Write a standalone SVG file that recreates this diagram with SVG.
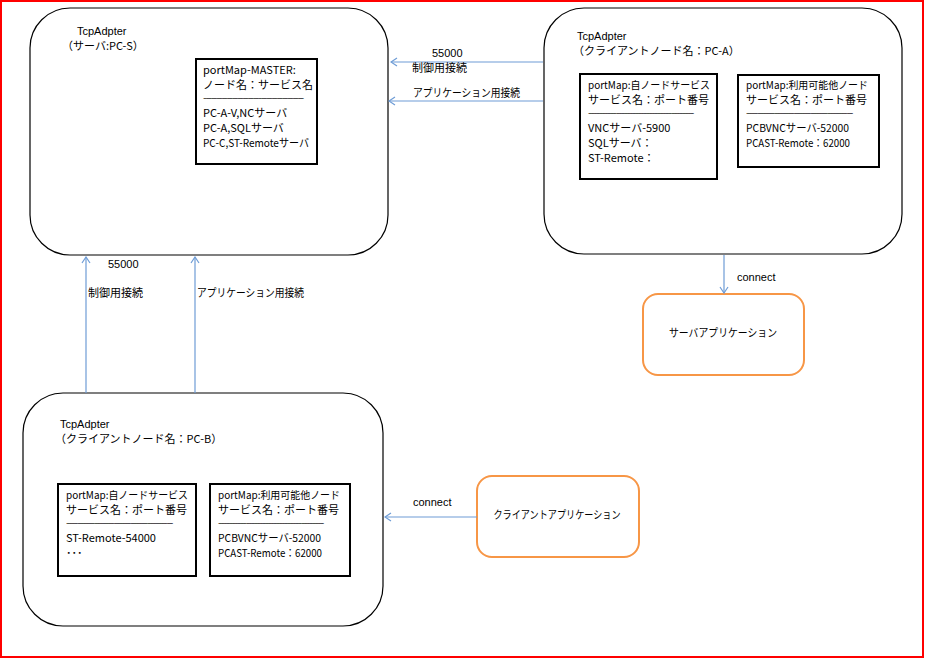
<svg xmlns="http://www.w3.org/2000/svg" width="925" height="659" viewBox="0 0 925 659">
<defs>
<style>
text{font-family:"Noto Sans CJK JP","Liberation Sans",sans-serif;font-size:11px;fill:#000}
.lat{font-family:"Liberation Sans","Noto Sans CJK JP",sans-serif}
.hd{font-size:10.5px}
.big{fill:#fff;stroke:#000;stroke-width:1.2}
.box{fill:#fff;stroke:#000;stroke-width:2}
.app{fill:#fff;stroke:#F79646;stroke-width:2}
.conn{stroke:#6E9CD6;stroke-width:1.2;fill:none}
.dash{font-size:9px;letter-spacing:-1px}
.mid{text-anchor:middle}
</style>
<marker id="arr" viewBox="0 0 8 10" refX="7" refY="5" markerWidth="8" markerHeight="10" orient="auto" markerUnits="userSpaceOnUse">
<path d="M1,1 L7,5 L1,9" fill="none" stroke="#6E9CD6" stroke-width="1.2"/>
</marker>
</defs>
<rect x="0" y="0" width="925" height="659" fill="#fff"/>
<rect x="1" y="1" width="922" height="656" fill="none" stroke="#FF0000" stroke-width="2"/>

<g id="node-pcs">
<rect class="big" x="30" y="8" width="358" height="247" rx="40" ry="40"/>
<text class="lat" x="77" y="35">TcpAdpter</text>
<text x="62" y="50">（サーバ:PC-S）</text>
<rect class="box" x="196" y="59" width="121" height="105"/>
<text x="203" y="74">portMap-MASTER:</text>
<text x="203" y="89">ノード名：サービス名</text>
<text class="dash" x="203" y="101" textLength="100" lengthAdjust="spacingAndGlyphs">--------------------------------------</text>
<text x="203" y="117">PC-A-V,NCサーバ</text>
<text x="203" y="132">PC-A,SQLサーバ</text>
<text x="203" y="147" textLength="106" lengthAdjust="spacingAndGlyphs">PC-C,ST-Remoteサーバ</text>
</g>

<g id="node-pca">
<rect class="big" x="544" y="8" width="358" height="246" rx="40" ry="40"/>
<text class="lat" x="577" y="40">TcpAdpter</text>
<text x="573" y="55">（クライアントノード名：PC-A）</text>
<rect class="box" x="580" y="74" width="137" height="105"/>
<text class="hd" x="588" y="89" textLength="122" lengthAdjust="spacingAndGlyphs">portMap:自ノードサービス</text>
<text x="588" y="104">サービス名：ポート番号</text>
<text class="dash" x="588" y="116" textLength="105" lengthAdjust="spacingAndGlyphs">--------------------------------------</text>
<text x="588" y="132">VNCサーバ-5900</text>
<text x="588" y="147">SQLサーバ：</text>
<text x="588" y="162">ST-Remote：</text>
<rect class="box" x="738" y="75" width="141" height="92"/>
<text class="hd" x="746" y="89" textLength="122" lengthAdjust="spacingAndGlyphs">portMap:利用可能他ノード</text>
<text x="746" y="104">サービス名：ポート番号</text>
<text class="dash" x="746" y="116" textLength="106" lengthAdjust="spacingAndGlyphs">--------------------------------------</text>
<text x="746" y="132" textLength="103" lengthAdjust="spacingAndGlyphs">PCBVNCサーバ-52000</text>
<text x="746" y="147" textLength="104" lengthAdjust="spacingAndGlyphs">PCAST-Remote：62000</text>
</g>

<g id="node-pcb">
<rect class="big" x="23" y="393" width="360" height="233" rx="40" ry="40"/>
<text class="lat" x="60" y="428">TcpAdpter</text>
<text x="55" y="443">（クライアントノード名：PC-B）</text>
<rect class="box" x="58" y="484" width="138" height="92"/>
<text class="hd" x="66" y="499" textLength="122" lengthAdjust="spacingAndGlyphs">portMap:自ノードサービス</text>
<text x="66" y="514">サービス名：ポート番号</text>
<text class="dash" x="66" y="526" textLength="106" lengthAdjust="spacingAndGlyphs">--------------------------------------</text>
<text x="66" y="542">ST-Remote-54000</text>
<text x="66" y="557">･･･</text>
<rect class="box" x="210" y="484" width="140" height="92"/>
<text class="hd" x="218" y="499" textLength="122" lengthAdjust="spacingAndGlyphs">portMap:利用可能他ノード</text>
<text x="218" y="514">サービス名：ポート番号</text>
<text class="dash" x="218" y="526" textLength="105" lengthAdjust="spacingAndGlyphs">--------------------------------------</text>
<text x="218" y="542" textLength="103" lengthAdjust="spacingAndGlyphs">PCBVNCサーバ-52000</text>
<text x="218" y="557" textLength="104" lengthAdjust="spacingAndGlyphs">PCAST-Remote：62000</text>
</g>

<g id="node-server-app">
<rect class="app" x="643" y="294" width="161" height="81" rx="15" ry="15"/>
<text class="mid" x="723" y="337" textLength="108" lengthAdjust="spacingAndGlyphs">サーバアプリケーション</text>
</g>

<g id="node-client-app">
<rect class="app" x="477" y="476" width="162" height="81" rx="15" ry="15"/>
<text class="mid" x="557" y="519" textLength="127" lengthAdjust="spacingAndGlyphs">クライアントアプリケーション</text>
</g>

<g id="connectors">
<line class="conn" x1="543" y1="62" x2="391" y2="62" marker-end="url(#arr)"/>
<line class="conn" x1="543" y1="101" x2="389" y2="101" marker-end="url(#arr)"/>
<line class="conn" x1="86" y1="393" x2="86" y2="257" marker-end="url(#arr)"/>
<line class="conn" x1="195" y1="393" x2="195" y2="257" marker-end="url(#arr)"/>
<line class="conn" x1="724" y1="255" x2="724" y2="293" marker-end="url(#arr)"/>
<line class="conn" x1="477" y1="517" x2="385" y2="517" marker-end="url(#arr)"/>
<text class="lat" x="432" y="57">55000</text>
<text x="412" y="72">制御用接続</text>
<text x="413" y="97" textLength="107" lengthAdjust="spacingAndGlyphs">アプリケーション用接続</text>
<text class="lat" x="108" y="268">55000</text>
<text x="88" y="297">制御用接続</text>
<text x="197" y="297" textLength="107" lengthAdjust="spacingAndGlyphs">アプリケーション用接続</text>
<text class="lat" x="737" y="281">connect</text>
<text class="lat" x="413" y="506">connect</text>
</g>
</svg>
